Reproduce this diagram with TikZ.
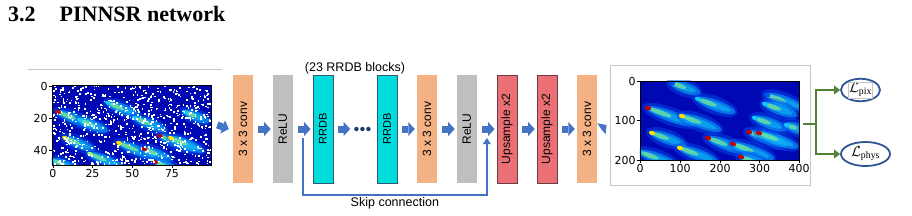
\documentclass[tikz,border=0pt]{standalone}
\usepackage{fontspec}
\setmainfont{Liberation Serif}
\setsansfont{Liberation Sans}
\newfontfamily\plotfont{DejaVu Sans}
\usepackage{graphicx}
\usepackage{xcolor}
\usepackage{tikz}
\usetikzlibrary{arrows.meta,calc,positioning,shapes.geometric}
\definecolor{convorange}{HTML}{F4B183}
\definecolor{relugray}{HTML}{BFBFBF}
\definecolor{rrdbcyan}{HTML}{00DCDC}
\definecolor{rrdbedge}{HTML}{2E5A74}
\definecolor{upred}{HTML}{EB7075}
\definecolor{upedge}{HTML}{6E3A4A}
\definecolor{flowblue}{HTML}{4472C4}
\definecolor{lossblue}{HTML}{2F5597}
\definecolor{lossgreen}{HTML}{548235}
\definecolor{dotnavy}{HTML}{1F3864}
\definecolor{jetbg}{HTML}{0008B4}
\definecolor{jetmid}{HTML}{0050F0}
\definecolor{jetcyan}{HTML}{10C8FF}
\definecolor{jetgreen}{HTML}{A0FF70}
\definecolor{jetyellow}{HTML}{FFE000}
\definecolor{jetred}{HTML}{C00000}

\begin{document}
\begin{tikzpicture}[
  x=1pt, y=-1pt,
  font=\sffamily\fontsize{12}{14}\selectfont,
  node distance=19.5pt,
  layer/.style={minimum width=20pt, minimum height=108pt, inner sep=0pt},
  convbox/.style={layer, fill=convorange},
  relubox/.style={layer, fill=relugray},
  rrdbbox/.style={layer, fill=rrdbcyan, draw=rrdbedge, line width=0.6pt},
  upbox/.style={layer, fill=upred, draw=upedge, line width=0.6pt},
  flow/.style={draw=flowblue, line width=7pt,
               -{Triangle[length=6.5pt,width=14pt,line width=0pt]}},
  skip/.style={draw=flowblue, line width=1.8pt,
               -{Triangle[length=6pt,width=8pt,line width=0pt]}},
  heat/.style={rectangle, inner sep=0pt, fill=jetbg},
  ticklab/.style={font=\plotfont\fontsize{11}{12}\selectfont, inner sep=1pt},
  loss/.style={ellipse, draw=lossblue, line width=1.8pt, inner sep=0pt,
               font=\fontsize{14}{16}\selectfont},
  lossarrow/.style={draw=lossgreen, line width=2pt,
                    -{Triangle[length=6pt,width=9pt,line width=0pt]}}
]
\useasboundingbox (0,0) rectangle (912,215);

% heading
\node[anchor=base west, inner sep=0pt, font=\rmfamily\bfseries\fontsize{22}{24}\selectfont]
  (title) at (8,21) {3.2\hspace{24pt}PINNSR network};
\draw[gray!45, line width=0.8pt] (28,69) -- (222,69);

% low resolution input
\node[heat, minimum width=159pt, minimum height=80pt] (lrimg) at (131.5,125) {};
\begin{scope}
  \clip (lrimg.south west) rectangle (lrimg.north east);
  \foreach \sx/\sy/\sl/\hc in {58/112/40/jetred, 65/138/32/jetyellow, 90/154/36/jetgreen,
      108/103/34/jetcyan, 119/143/42/jetyellow, 144/149/30/jetred, 155/162/28/jetred,
      160/136/38/jetred, 171/138/36/jetyellow, 80/120/30/jetcyan, 135/118/34/jetcyan,
      185/112/26/jetcyan, 52/160/30/jetcyan}{
    \begin{scope}[shift={(\sx,\sy)}, rotate=-22]
      \fill[jetmid, opacity=.45] ({\sl/2-2},0) ellipse ({\sl/2+4} and 8);
      \fill[jetcyan, opacity=.5] ({\sl/2-1},0) ellipse ({\sl/2+1} and 5);
      \fill[jetcyan, opacity=.5] ({\sl/2-3},0) ellipse ({\sl/2-2} and 3);
      \fill[jetgreen, opacity=.6] ({\sl/4},0) ellipse ({\sl/4} and 2);
      \fill[\hc] (0,0) ellipse (3 and 2);
    \end{scope}
  }
  \pgfmathsetseed{42}
  \foreach \i in {1,...,750}{
    \pgfmathsetmacro\px{52+157.5*rnd}
    \pgfmathsetmacro\py{85+78.5*rnd}
    \fill[white] (\px,\py) rectangle ++(1.6,1.6);
  }
\end{scope}
\draw[line width=0.6pt] (lrimg.south west) rectangle (lrimg.north east);
\foreach \v/\p in {0/86, 20/118, 40/150}
  \draw[line width=0.5pt] (lrimg.west |- 0,\p) -- ++(-3,0) node[left, ticklab] {\v};
\foreach \v/\p in {0/52.8, 25/92.5, 50/132.3, 75/172}
  \draw[line width=0.5pt] (\p,0 |- lrimg.south) -- ++(0,3) node[below, ticklab] {\v};

% network layers
\node[convbox] (conv1) at (243,129) {\rotatebox{90}{3 x 3 conv}};
\node[relubox, right=of conv1] (relu1) {\rotatebox{90}{ReLU}};
\node[rrdbbox, right=of relu1] (rrdb1) {\rotatebox{90}{\fontsize{11}{12}\selectfont RRDB}};
\node[minimum width=16pt, inner sep=0pt, right=21pt of rrdb1] (dots) {};
\foreach \k in {-6,0,6}
  \fill[dotnavy] ($(dots.center)+(\k,0)$) circle (2.2pt);
\node[rrdbbox, right=43.5pt of rrdb1] (rrdbN) {\rotatebox{90}{\fontsize{11}{12}\selectfont RRDB}};
\node[convbox, right=of rrdbN] (conv2) {\rotatebox{90}{3 x 3 conv}};
\node[relubox, right=of conv2] (relu2) {\rotatebox{90}{ReLU}};
\node[upbox, right=of relu2] (up1) {\rotatebox{90}{Upsample x2}};
\node[upbox, right=of up1] (up2) {\rotatebox{90}{Upsample x2}};
\node[convbox, right=of up2] (conv3) {\rotatebox{90}{3 x 3 conv}};
\node[inner sep=0.5pt, above=0pt of $(rrdb1.north)!.5!(rrdbN.north)$] (nblocks)
  {\fontsize{12.5}{14}\selectfont(23 RRDB blocks)};

% high resolution output
\node[draw=gray!45, line width=0.8pt, minimum width=200pt, minimum height=120pt,
      inner sep=0pt] (hrframe) at (710,125) {};
\node[heat, minimum width=159pt, minimum height=79pt] (hrimg) at (719.5,120.5) {};
\begin{scope}
  \clip (hrimg.south west) rectangle (hrimg.north east);
  \foreach \sx/\sy/\sl/\hc in {672/83/30/jetmid, 767/95/40/jetmid, 640/152/40/jetcyan,
      648/108/50/jetred, 652/133/36/jetyellow, 682/116/42/jetyellow, 698/99/40/jetcyan,
      680/148/40/jetyellow, 708/138/42/jetred, 733/144/44/jetred, 749/132/40/jetred,
      759/133/42/jetred, 741/157/30/jetred, 755/118/34/jetcyan, 765/104/34/jetcyan,
      787/125/22/jetcyan}{
    \begin{scope}[shift={(\sx,\sy)}, rotate=-20]
      \fill[jetmid, opacity=.45] ({\sl/2-2},0) ellipse ({\sl/2+4} and 9);
      \fill[jetcyan, opacity=.45] ({\sl/2-1},0) ellipse ({\sl/2+1} and 5.5);
      \fill[jetcyan, opacity=.5] ({\sl/2-3},0) ellipse ({\sl/2-2} and 3.2);
      \fill[jetgreen, opacity=.55] ({\sl/4},0) ellipse ({\sl/4} and 2.2);
      \fill[\hc] (0,0) ellipse (3.2 and 2.2);
    \end{scope}
  }
\end{scope}
\draw[line width=0.6pt] (hrimg.south west) rectangle (hrimg.north east);
\foreach \v/\p in {0/81, 100/120.5, 200/160}
  \draw[line width=0.5pt] (hrimg.west |- 0,\p) -- ++(-3,0) node[left, ticklab] {\v};
\foreach \v/\p in {0/640, 100/680, 200/720, 300/759.5, 400/799}
  \draw[line width=0.5pt] (\p,0 |- hrimg.south) -- ++(0,3) node[below, ticklab] {\v};

% losses
\node[loss, minimum width=39pt, minimum height=21pt] (lpix) at (860.5,90)
  {\setlength{\fboxsep}{0.5pt}\setlength{\fboxrule}{0.4pt}%
   \fcolorbox{gray!45}{white}{$\mathcal{L}_{\mathrm{pix}}$}};
\node[loss, minimum width=49pt, minimum height=24pt] (lphys) at (865.5,154)
  {$\mathcal{L}_{\mathrm{phys}}$};

% data flow
\draw[flow] ([xshift=6pt]lrimg.east) -- ([xshift=-4pt]conv1.west);
\draw[flow] ([xshift=5pt]conv1.east) -- ([xshift=-2pt]relu1.west);
\draw[flow] ([xshift=5pt]relu1.east) -- ([xshift=-2pt]rrdb1.west);
\draw[flow] ([xshift=5pt]rrdb1.east) -- ([xshift=-4pt]dots.west);
\draw[flow] ([xshift=5pt]rrdbN.east) -- ([xshift=-2pt]conv2.west);
\draw[flow] ([xshift=5pt]conv2.east) -- ([xshift=-2pt]relu2.west);
\draw[flow] ([xshift=5pt]relu2.east) -- ([xshift=-2pt]up1.west);
\draw[flow] ([xshift=5pt]up1.east) -- ([xshift=-2pt]up2.west);
\draw[flow] ([xshift=5pt]up2.east) -- ([xshift=-2pt]conv3.west);
\draw[flow] ([xshift=4pt]conv3.east) -- ([xshift=-3pt]hrframe.west);

% skip connection
\coordinate (skipfrom) at ($(relu1.east)!.5!(rrdb1.west)+(0,9)$);
\coordinate (skipto) at ($(relu2.east)!.5!(up1.west)+(0,9)$);
\draw[skip] (skipfrom) -- (skipfrom |- 0,195)
  -- node[below, inner sep=1.5pt, font=\sffamily\fontsize{12.5}{14}\selectfont] (skiplab)
     {Skip connection}
  (skipto |- 0,195) -- (skipto);

% loss branches
\coordinate (brk) at (816,124);
\draw[lossgreen, line width=2pt] ([xshift=4pt]hrimg.east |- brk) -- (brk);
\draw[lossarrow] (brk) |- (lpix.west);
\draw[lossarrow] (brk) |- (lphys.west);
\end{tikzpicture}
\end{document}
